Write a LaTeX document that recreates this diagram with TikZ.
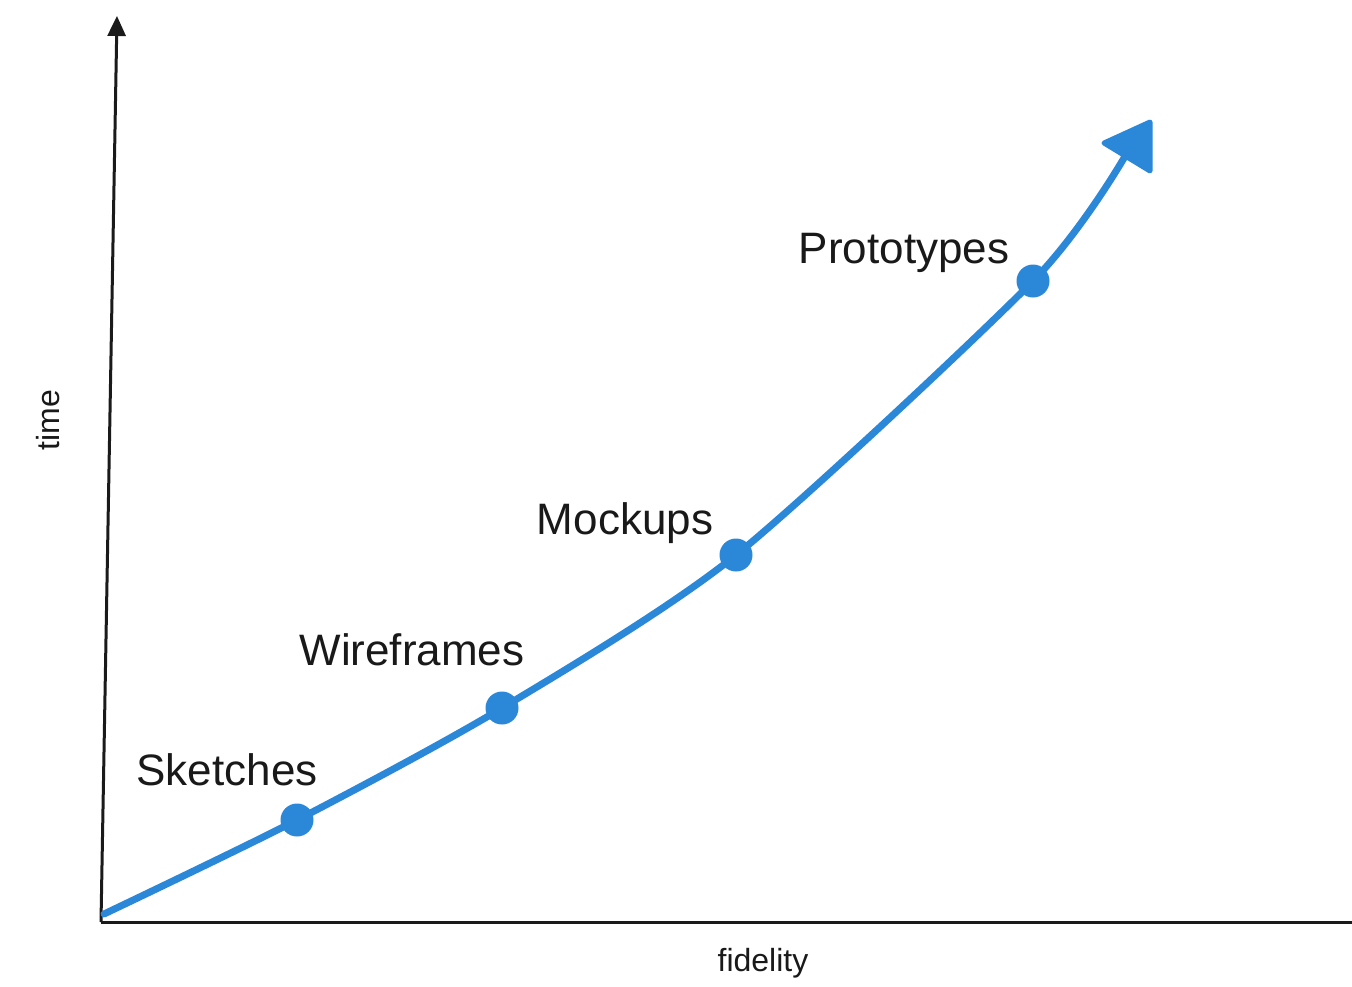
\documentclass[tikz,border=0pt]{standalone}
\usepackage{fontspec}
\setmainfont{Liberation Sans}
\usetikzlibrary{arrows.meta}
\definecolor{curveblue}{HTML}{2B87D8}
\definecolor{axisgray}{HTML}{1A1A1A}
\begin{document}
\begin{tikzpicture}[x=1pt,y=-1pt,
  axisline/.style={draw=axisgray,line width=3pt},
  dot/.style={circle,fill=curveblue,minimum size=33pt,inner sep=0pt},
  stagelabel/.style={font=\fontsize{44}{50}\selectfont,text=black!90,inner sep=0pt},
  axislabel/.style={font=\fontsize{32}{36}\selectfont,text=black!90,inner sep=0pt}]
\useasboundingbox (0,0) rectangle (1352,986);
\fill[white] (0,0) rectangle (1352,986);
% axes
\coordinate (origin) at (101,922);
\coordinate (ytop) at (117,16);
\coordinate (xend) at (1352,922);
\draw[axisline,-{Triangle[length=20pt,width=18pt]}] (origin) -- (ytop);
\draw[axisline] (origin) -- (xend);
\node[axislabel,rotate=90] (tlab) at (48,420) {time};
\node[axislabel] (flab) at (763,963) {fidelity};
% curve
\coordinate (c0) at (104,914);
\node[dot] (s) at (297,820) {};
\node[dot] (w) at (502,708) {};
\node[dot] (m) at (736,555) {};
\node[dot] (p) at (1033,281) {};
\coordinate (cend) at (1124,158);
\draw[curveblue,line width=7pt,line cap=round] plot[smooth,tension=0.45] coordinates {(c0) (s.center) (w.center) (m.center) (p.center) (cend)};
\fill[curveblue,draw=curveblue,line width=5pt,line join=round] (1104,143) -- (1150,122) -- (1150,171) -- cycle;
% labels
\node[stagelabel] (sl) at (227,770) {Sketches};
\node[stagelabel] (wl) at (412,650) {Wireframes};
\node[stagelabel] (ml) at (625,523) {Mockups};
\node[stagelabel] (pl) at (904,253) {Prototypes};
\end{tikzpicture}
\end{document}
